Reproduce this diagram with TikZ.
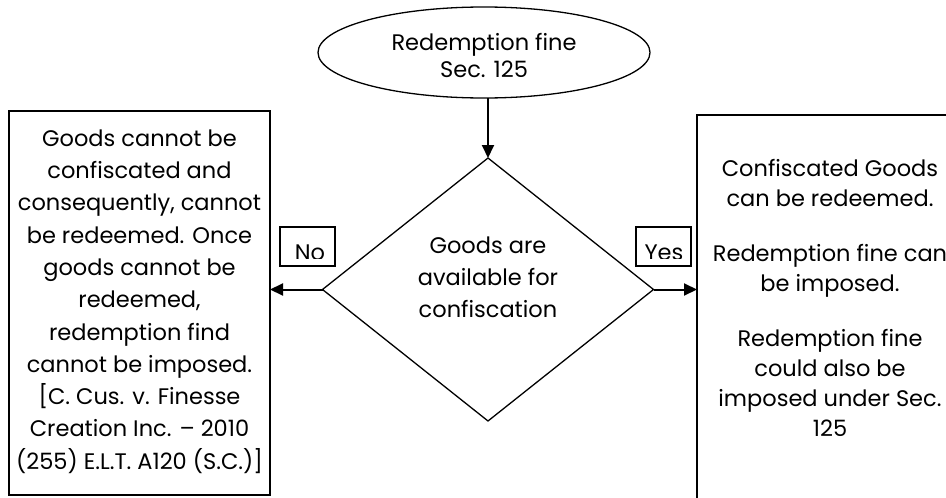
\documentclass[tikz,border=0pt]{standalone}
\usepackage{fontspec}
\setmainfont{Poppins}
\usetikzlibrary{shapes.geometric,arrows.meta,calc}

\begin{document}
\begin{tikzpicture}[x=1pt,y=-1pt,
  every node/.style={inner sep=0pt, outer sep=0pt, align=center},
  txt/.style={font=\fontsize{22.5}{32.3}\selectfont},
  outline/.style={draw, line width=1.3pt},
  flow/.style={draw, line width=2pt, -{Triangle[length=13pt,width=12pt]}},
  tag/.style={draw, line width=1.2pt, minimum width=55pt, minimum height=39pt},
]
\useasboundingbox (0,0) rectangle (946,498);
\clip (0,0) rectangle (946,498);

% start: redemption fine
\node[outline, ellipse, minimum width=332pt, minimum height=91pt] (fine) at (484,52.5) {};
\node[txt, font=\fontsize{22.5}{27}\selectfont] (finetext) at (484,56) {Redemption fine\\Sec. 125};

% decision
\node[outline, diamond, minimum width=331pt, minimum height=263pt] (dec) at (488,289.5) {};
\node[txt, font=\fontsize{22.5}{32}\selectfont] (dectext) at (488,277.5) {Goods are\\available for\\confiscation};

% outcome: no
\node[outline, rectangle, minimum width=261pt, minimum height=384pt] (lbox) at (139.5,303) {};
\node[txt] (ltext) at (139.5,301.5) {Goods cannot be\\confiscated and\\consequently, cannot\\be redeemed. Once\\goods cannot be\\redeemed,\\redemption find\\cannot be imposed.\\{[}C. Cus. v. Finesse\\Creation Inc. -- 2010\\(255) E.L.T. A120 (S.C.)]};

% outcome: yes
\node[draw, line width=2pt, rectangle, minimum width=266pt, minimum height=415pt] (rbox) at (830,322.5) {};
\node[txt, font=\fontsize{22.5}{30}\selectfont] (rtext) at (830,297.5) {Confiscated Goods\\can be redeemed.\\[25pt]Redemption fine can\\be imposed.\\[25pt]Redemption fine\\could also be\\imposed under Sec.\\125};

% branch tags, text cut off at the lower edge
\node[tag] (no) at (307.5,246.5) {};
\begin{scope}
  \clip (no.north west) rectangle ($(no.south east)+(0,-8)$);
  \node[txt] (notext) at (310,253.2) {No};
\end{scope}
\node[tag] (yes) at (663.5,246.5) {};
\begin{scope}
  \clip (yes.north west) rectangle ($(yes.south east)+(0,-8)$);
  \node[txt] (yestext) at (664,253.2) {Yes};
\end{scope}

% connectors
\draw[flow] (fine.south -| dec.north) -- (dec.north);
\draw[flow] (dec.west) -- (dec.west -| lbox.east);
\draw[flow] (dec.east) -- (dec.east -| rbox.west);
\end{tikzpicture}
\end{document}
